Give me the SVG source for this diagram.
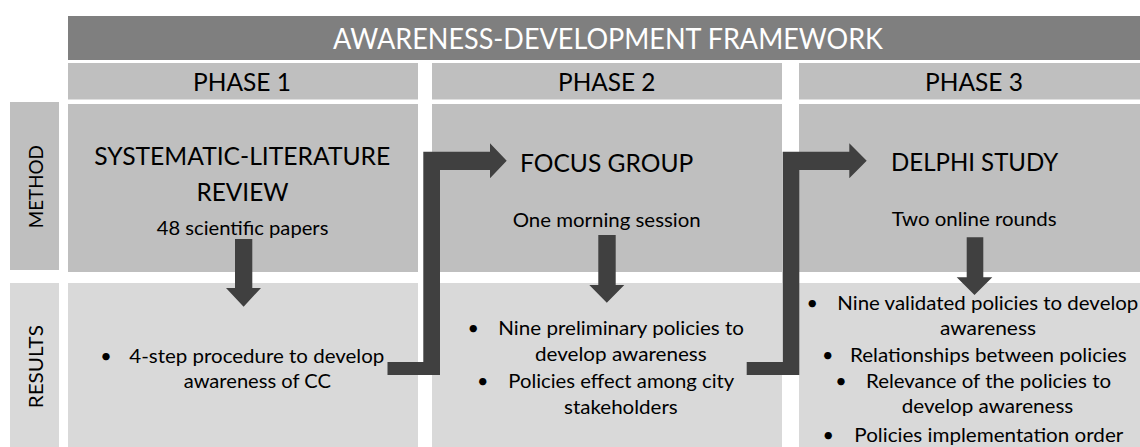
<svg xmlns="http://www.w3.org/2000/svg" width="1140" height="447" viewBox="0 0 1140 447">
<defs>
<style>
text { font-family: Lato, "Liberation Sans", sans-serif; fill: #000; }
.title { fill: #ffffff; font-size: 29px; }
.phase { font-size: 25.5px; }
.big { font-size: 25.5px; }
.body { font-size: 19.8px; }
.lbl { font-size: 19.8px; text-anchor: middle; }
.bar { fill: #7f7f7f; }
.mid { fill: #bfbfbf; }
.light { fill: #d9d9d9; }
.arrow { fill: #404040; }
</style>
</defs>
<rect width="1140" height="447" fill="#ffffff"/>

<g id="title">
<rect class="bar" x="68" y="16" width="1072" height="44"/>
<text class="title" x="333" y="49" textLength="550" lengthAdjust="spacingAndGlyphs">AWARENESS-DEVELOPMENT FRAMEWORK</text>
</g>

<g id="phase1-header">
<rect class="mid" x="68" y="63" width="350" height="36.5"/>
<text class="phase" x="193" y="91" textLength="98" lengthAdjust="spacingAndGlyphs">PHASE 1</text>
</g>
<g id="phase2-header">
<rect class="mid" x="432" y="63" width="350" height="36.5"/>
<text class="phase" x="558" y="91" textLength="97.5" lengthAdjust="spacingAndGlyphs">PHASE 2</text>
</g>
<g id="phase3-header">
<rect class="mid" x="799" y="63" width="341" height="36.5"/>
<text class="phase" x="925" y="91" textLength="98" lengthAdjust="spacingAndGlyphs">PHASE 3</text>
</g>

<g id="method-label">
<rect class="mid" x="10" y="102" width="49" height="168"/>
<text class="lbl" transform="translate(43,186.7) rotate(-90)" x="0" y="0" textLength="83" lengthAdjust="spacingAndGlyphs">METHOD</text>
</g>
<g id="results-label">
<rect class="light" x="10" y="283" width="49" height="164"/>
<text class="lbl" transform="translate(43,366.7) rotate(-90)" x="0" y="0" textLength="83" lengthAdjust="spacingAndGlyphs">RESULTS</text>
</g>

<g id="phase1-method">
<rect class="mid" x="68" y="104" width="350" height="168"/>
<text class="big" x="94.3" y="165" textLength="296" lengthAdjust="spacingAndGlyphs">SYSTEMATIC-LITERATURE</text>
<text class="big" x="196.5" y="201" textLength="92" lengthAdjust="spacingAndGlyphs">REVIEW</text>
<text class="body" x="156.7" y="235" textLength="171.7" lengthAdjust="spacingAndGlyphs">48 scientific papers</text>
</g>
<g id="phase2-method">
<rect class="mid" x="432" y="104" width="350" height="168"/>
<text class="big" x="520" y="171.5" textLength="173.3" lengthAdjust="spacingAndGlyphs">FOCUS GROUP</text>
<text class="body" x="512.7" y="227.3" textLength="188" lengthAdjust="spacingAndGlyphs">One morning session</text>
</g>
<g id="phase3-method">
<rect class="mid" x="799" y="104" width="341" height="168"/>
<text class="big" x="891" y="171" textLength="167.3" lengthAdjust="spacingAndGlyphs">DELPHI STUDY</text>
<text class="body" x="891.7" y="226" textLength="165" lengthAdjust="spacingAndGlyphs">Two online rounds</text>
</g>

<g id="phase1-results">
<rect class="light" x="68" y="283" width="350" height="164"/>
<text class="body" x="106" y="362.7" text-anchor="middle">•</text>
<text class="body" x="129.3" y="362.7" textLength="255" lengthAdjust="spacingAndGlyphs">4-step procedure to develop</text>
<text class="body" x="183.7" y="388.3" textLength="147.3" lengthAdjust="spacingAndGlyphs">awareness of CC</text>
</g>
<g id="phase2-results">
<rect class="light" x="432" y="283" width="350" height="164"/>
<text class="body" x="473.3" y="335" text-anchor="middle">•</text>
<text class="body" x="498.3" y="335" textLength="245.7" lengthAdjust="spacingAndGlyphs">Nine preliminary policies to</text>
<text class="body" x="535" y="361" textLength="171.7" lengthAdjust="spacingAndGlyphs">develop awareness</text>
<text class="body" x="482.7" y="388.3" text-anchor="middle">•</text>
<text class="body" x="508.3" y="388.3" textLength="226" lengthAdjust="spacingAndGlyphs">Policies effect among city</text>
<text class="body" x="564" y="414.3" textLength="113.7" lengthAdjust="spacingAndGlyphs">stakeholders</text>
</g>
<g id="phase3-results">
<rect class="light" x="799" y="283" width="341" height="164"/>
<text class="body" x="812.3" y="310" text-anchor="middle">•</text>
<text class="body" x="837.3" y="310" textLength="301" lengthAdjust="spacingAndGlyphs">Nine validated policies to develop</text>
<text class="body" x="940" y="335" textLength="96" lengthAdjust="spacingAndGlyphs">awareness</text>
<text class="body" x="827.7" y="361.7" text-anchor="middle">•</text>
<text class="body" x="850" y="361.7" textLength="276.7" lengthAdjust="spacingAndGlyphs">Relationships between policies</text>
<text class="body" x="841" y="388.3" text-anchor="middle">•</text>
<text class="body" x="866" y="388.3" textLength="245" lengthAdjust="spacingAndGlyphs">Relevance of the policies to</text>
<text class="body" x="901.7" y="413.3" textLength="171.6" lengthAdjust="spacingAndGlyphs">develop awareness</text>
<text class="body" x="828.3" y="441.7" text-anchor="middle">•</text>
<text class="body" x="854.3" y="441.7" textLength="269" lengthAdjust="spacingAndGlyphs">Policies implementation order</text>
</g>

<g id="connectors">
<polygon class="arrow" points="235,239 252.3,239 252.3,288 261,288 243.6,306.7 226,288 235,288"/>
<polygon class="arrow" points="598.3,235 615.7,235 615.7,285 624.3,285 606.8,302.7 589.3,285 598.3,285"/>
<polygon class="arrow" points="966.7,237.3 983.3,237.3 983.3,277.3 992.3,277.3 974.5,295 956.7,277.3 966.7,277.3"/>
<polygon class="arrow" points="387.5,362 423.3,362 423.3,151.7 490,151.7 490,143.3 506.7,160.8 490,178.3 490,170 440,170 440,375 387.5,375"/>
<polygon class="arrow" points="746.7,362 782.7,362 782.7,151.7 849.3,151.7 849.3,143.3 866.7,160.8 849.3,178.3 849.3,170 799.3,170 799.3,375 746.7,375"/>
</g>
</svg>
